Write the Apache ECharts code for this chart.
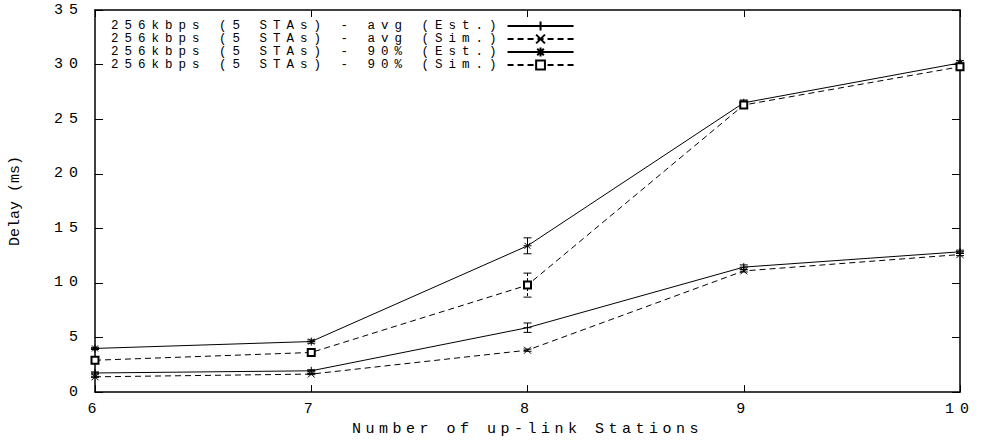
<!DOCTYPE html>
<html>
<head>
<meta charset="utf-8">
<script src="https://cdn.jsdelivr.net/npm/echarts@6/dist/echarts.min.js"></script>
<style>
  html, body { margin: 0; padding: 0; background: #fff; }
  #chart { width: 982px; height: 442px; }
  #chart text[style*="monospace"] { letter-spacing: 4.5px; }
  #chart text[style*="Courier"] { letter-spacing: 6px; }
  #chart text[style*="Cousine"] { letter-spacing: 6px; }
</style>
</head>
<body>
<div id="chart"></div>
<script>
// ---- data ----
const stations = [6, 7, 8, 9, 10];
const yTicks = [0, 5, 10, 15, 20, 25, 30, 35];

const avgEst = [1.75, 1.95, 5.9, 11.45, 12.85];
const avgEstErr = [0.1, 0.1, 0.43, 0.2, 0.15];
const avgSim = [1.4, 1.65, 3.84, 11.1, 12.6];
const avgSimErr = [0.05, 0.05, 0.1, 0.1, 0.1];
const p90Est = [4.0, 4.63, 13.4, 26.5, 30.15];
const p90EstErr = [0.1, 0.15, 0.73, 0.25, 0.2];
const p90Sim = [2.92, 3.63, 9.8, 26.3, 29.8];
const p90SimErr = [0.1, 0.15, 1.1, 0.25, 0.2];

const names = [
  '256kbps (5 STAs) - avg (Est.)',
  '256kbps (5 STAs) - avg (Sim.)',
  '256kbps (5 STAs) - 90% (Est.)',
  '256kbps (5 STAs) - 90% (Sim.)'
];

const MONO = "'Liberation Mono', monospace";
const TICKF = "'Liberation Mono', Courier";
const LEGF = "'Liberation Mono', Cousine";
const PLAINF = "'Liberation Mono'";

const SYM_PLUS = 'path://M0,4L8,4M4,0L4,8';
const SYM_CROSS = 'path://M0,0L8,8M8,0L0,8';
const SYM_STAR = 'path://M0,4L8,4M4,0L4,8M1,1L7,7M7,1L1,7';

function pts(ys) { return stations.map((x, i) => [x, ys[i]]); }
function errPts(ys, es) { return stations.map((x, i) => [x, ys[i], es[i]]); }

function lineSeries(name, ys, symbol, dashed, size) {
  return {
    name: name, type: 'line', data: pts(ys),
    symbol: symbol, symbolSize: size,
    showAllSymbol: true,
    lineStyle: { color: '#000', width: 1, type: dashed ? [6, 4] : 'solid' },
    itemStyle: { color: '#000', borderColor: '#000', borderWidth: 1 },
    emphasis: { disabled: true },
    animation: false, z: 3
  };
}

function errSeries(ys, es, dashed) {
  return {
    type: 'custom', data: errPts(ys, es), silent: true, animation: false, z: 2,
    renderItem: function (params, api) {
      const x = api.value(0), y = api.value(1), e = api.value(2);
      const top = api.coord([x, y + e]);
      const bot = api.coord([x, y - e]);
      const hw = 4;
      const st = { stroke: '#000', lineWidth: 1, lineDash: dashed ? [3, 2] : null };
      return {
        type: 'group',
        children: [
          { type: 'line', shape: { x1: top[0], y1: top[1], x2: bot[0], y2: bot[1] }, style: st },
          { type: 'line', shape: { x1: top[0] - hw, y1: top[1], x2: top[0] + hw, y2: top[1] }, style: { stroke: '#000', lineWidth: 1 } },
          { type: 'line', shape: { x1: bot[0] - hw, y1: bot[1], x2: bot[0] + hw, y2: bot[1] }, style: { stroke: '#000', lineWidth: 1 } }
        ]
      };
    }
  };
}

const chart = echarts.init(document.getElementById('chart'), null, { renderer: 'svg' });

const axisLineStyle = { color: '#000', width: 1.5 };

chart.setOption({
  animation: false,
  backgroundColor: '#fff',
  grid: { left: 94, right: 22, top: 10, bottom: 49, containLabel: false },
  legend: {
    data: names.map(n => ({ name: n })),
    orient: 'vertical',
    align: 'right',
    left: 285,
    top: 19.5,
    padding: 0,
    itemGap: 0,
    itemWidth: 66,
    itemHeight: 11,
    selectedMode: false,
    textStyle: { fontFamily: LEGF, fontSize: 12.5, color: '#000', lineHeight: 12.6 }
  },
  xAxis: [
    {
      type: 'value', min: 6, max: 10, interval: 1, position: 'bottom',
      name: 'Number of up-link Stations', nameLocation: 'middle', nameGap: 28,
      nameTextStyle: { fontFamily: MONO, fontSize: 15, color: '#000' },
      axisLine: { show: true, onZero: false, lineStyle: axisLineStyle },
      axisTick: { show: true, inside: true, length: 7, lineStyle: { color: '#000', width: 1 } },
      axisLabel: { fontFamily: TICKF, fontSize: 15, color: '#000', margin: 10 },
      splitLine: { show: false }
    },
    {
      type: 'value', min: 6, max: 10, interval: 1, position: 'top',
      axisLine: { show: true, onZero: false, lineStyle: axisLineStyle },
      axisTick: { show: true, inside: true, length: 7, lineStyle: { color: '#000', width: 1 } },
      axisLabel: { show: false },
      splitLine: { show: false }
    }
  ],
  yAxis: [
    {
      type: 'value', min: 0, max: 35, interval: 5, position: 'left',
      name: 'Delay (ms)', nameLocation: 'middle', nameGap: 72, nameRotate: 90,
      nameTextStyle: { fontFamily: PLAINF, fontSize: 15, color: '#000' },
      axisLine: { show: true, onZero: false, lineStyle: axisLineStyle },
      axisTick: { show: true, inside: true, length: 8, lineStyle: { color: '#000', width: 1 } },
      axisLabel: { fontFamily: TICKF, fontSize: 15, color: '#000', margin: 11,
        formatter: v => String(yTicks[yTicks.indexOf(v)]) },
      splitLine: { show: false }
    },
    {
      type: 'value', min: 0, max: 35, interval: 5, position: 'right',
      axisLine: { show: true, onZero: false, lineStyle: axisLineStyle },
      axisTick: { show: true, inside: true, length: 8, lineStyle: { color: '#000', width: 1 } },
      axisLabel: { show: false },
      splitLine: { show: false }
    }
  ],
  series: [
    errSeries(avgEst, avgEstErr, false),
    errSeries(avgSim, avgSimErr, true),
    errSeries(p90Est, p90EstErr, false),
    errSeries(p90Sim, p90SimErr, true),
    lineSeries(names[0], avgEst, SYM_PLUS, false, 8),
    lineSeries(names[1], avgSim, SYM_CROSS, true, 7),
    lineSeries(names[2], p90Est, SYM_STAR, false, 8),
    lineSeries(names[3], p90Sim, 'emptyRect', true, 7)
  ]
});
</script>
</body>
</html>
